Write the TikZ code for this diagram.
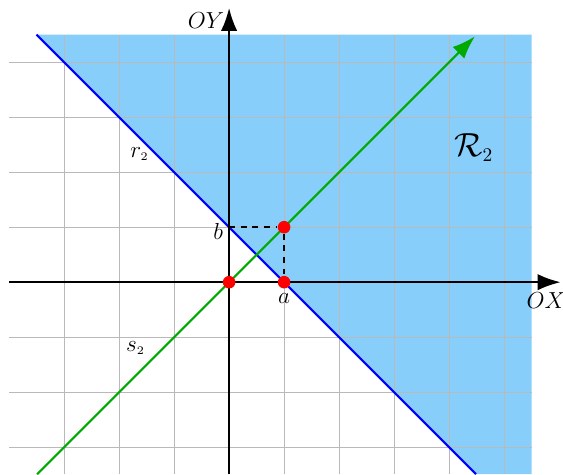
\documentclass[tikz,border=0pt]{standalone}
\usetikzlibrary{arrows.meta}
\definecolor{regblue}{RGB}{135,206,250}
\definecolor{sgreen}{RGB}{0,170,0}
\begin{document}
\begin{tikzpicture}[x=1cm,y=1cm,
  gridline/.style={gray!55,line width=0.5pt},
  axis/.style={black,line width=1.3pt,-{Latex[length=12pt,width=8.5pt]}},
  dot/.style={circle,fill=red,inner sep=0pt,minimum size=6.5pt},
  lbl/.style={inner sep=1pt,font=\large}]
\useasboundingbox (-4.165,-3.49) rectangle (6.07,5.13);
\fill[regblue] (-3.5,4.5) -- (5.5,4.5) -- (5.5,-3.49) -- (4.49,-3.49) -- cycle;
\foreach \i in {-3,...,5} \draw[gridline] (\i,-3.49) -- (\i,4.5);
\foreach \j in {-3,...,4} \draw[gridline] (-4,\j) -- (5.5,\j);
\draw[blue,line width=1.1pt] (-3.5,4.5) -- (4.49,-3.49);
\coordinate (sstart) at (-3.49,-3.49);
\coordinate (send) at (4.47,4.47);
\draw[sgreen,line width=1.1pt,-{Latex[length=12pt,width=8.5pt]}] (sstart) -- (send);
\coordinate (xl) at (-4,0); \coordinate (xr) at (6.03,0);
\coordinate (yb) at (0,-3.49); \coordinate (yt) at (0,4.99);
\draw[axis] (xl) -- (xr);
\draw[axis] (yb) -- (yt);
\node[lbl] (oy) at (-0.42,4.76) {$OY$};
\node[lbl] (ox) at (5.76,-0.34) {$OX$};
\coordinate (bpt) at (0,1);
\node[dot] (o) at (0,0) {};
\node[dot] (a) at (1,0) {};
\node[dot] (p) at (1,1) {};
\draw[dashed,line width=1pt] (bpt) -- (p) -- (a);
\node[lbl] (bl) at (-0.2,0.93) {$b$};
\node[lbl] (al) at (1,-0.3) {$a$};
\node[lbl] (rl) at (-1.63,2.33) {$r_{\scriptscriptstyle 2}$};
\node[lbl] (sl) at (-1.7,-1.2) {$s_{\scriptscriptstyle 2}$};
\node[lbl,font=\LARGE] (Rl) at (4.45,2.45) {$\mathcal{R}_{\scriptscriptstyle 2}$};
\end{tikzpicture}
\end{document}
